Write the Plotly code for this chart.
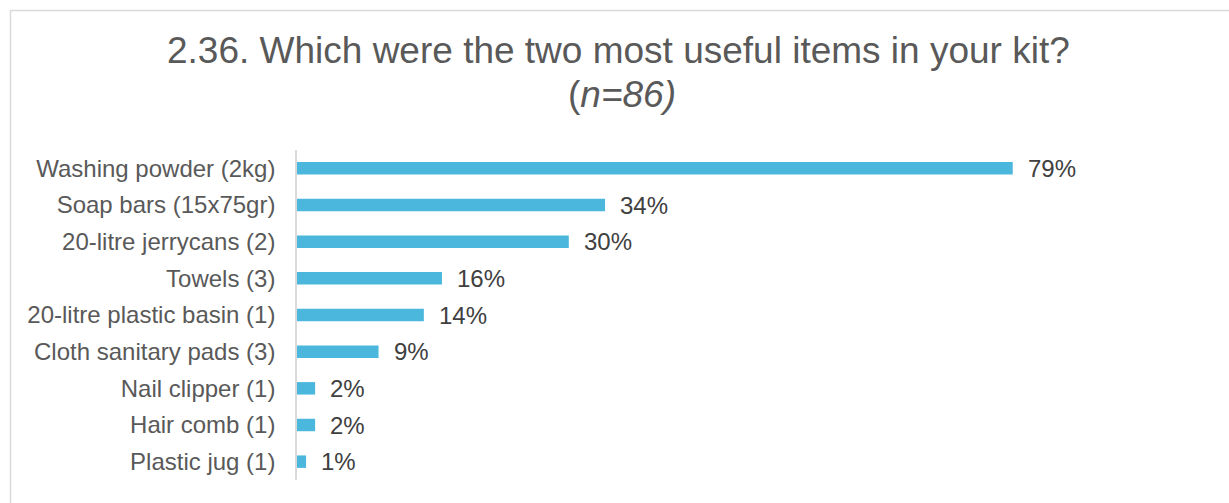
import plotly.graph_objects as go

# Survey results: share of respondents naming each kit item among their two most useful
items = [
    "Washing powder (2kg)",
    "Soap bars (15x75gr)",
    "20-litre jerrycans (2)",
    "Towels (3)",
    "20-litre plastic basin (1)",
    "Cloth sanitary pads (3)",
    "Nail clipper (1)",
    "Hair comb (1)",
    "Plastic jug (1)",
]
shares = [79, 34, 30, 16, 14, 9, 2, 2, 1]
value_labels = ["79%", "34%", "30%", "16%", "14%", "9%", "2%", "2%", "1%"]

title_line1 = "2.36. Which were the two most useful items in your kit?"
title_line2 = "(<i>n=86)</i>"

W, H = 1229, 503
M_L, M_R, M_T, M_B = 297, 26, 150, 23
plot_w = W - M_L - M_R
plot_h = H - M_T - M_B

BAR = "#4BB7DD"
LABEL = "#595959"
VALUE = "#404040"
FONT = "Liberation Sans, Arial, sans-serif"


def px_x(px):
    return (px - M_L) / plot_w


def px_y(py):
    return (H - M_B - py) / plot_h


fig = go.Figure(
    go.Bar(
        x=shares,
        y=items,
        orientation="h",
        marker=dict(color=BAR, line=dict(width=0)),
        width=0.34,
        hoverinfo="skip",
    )
)

# percentage labels just past the end of each bar
for item, v, lab in zip(items, shares, value_labels):
    fig.add_annotation(
        x=v, y=item, xref="x", yref="y",
        text=lab, showarrow=False,
        xanchor="left", yanchor="middle", xshift=13,
        font=dict(family=FONT, size=24, color=VALUE),
    )

# two-line heading
fig.add_annotation(
    x=px_x(618), xref="paper", y=px_y(51), yref="paper",
    xanchor="center", yanchor="middle", showarrow=False,
    text=title_line1, font=dict(family=FONT, size=37, color=LABEL),
)
fig.add_annotation(
    x=px_x(622), xref="paper", y=px_y(94), yref="paper",
    xanchor="center", yanchor="middle", showarrow=False,
    text=title_line2, font=dict(family=FONT, size=37, color=LABEL),
)

# frame around the chart
fig.add_shape(
    type="rect", xref="paper", yref="paper",
    x0=px_x(10.5), x1=px_x(1240), y0=px_y(515), y1=px_y(10.5),
    line=dict(color="#D9D9D9", width=1.5), fillcolor="rgba(0,0,0,0)",
    layer="below",
)

fig.update_layout(
    width=W, height=H,
    margin=dict(l=M_L, r=M_R, t=M_T, b=M_B, pad=0),
    paper_bgcolor="white", plot_bgcolor="white",
    showlegend=False,
    bargap=0.66,
    xaxis=dict(
        range=[0, 100], visible=False, fixedrange=True,
    ),
    yaxis=dict(
        categoryorder="array", categoryarray=items,
        autorange="reversed",
        showline=True, linecolor="#D9D9D9", linewidth=1.5,
        showgrid=False, zeroline=False, ticks="",
        ticklabelstandoff=15,
        tickfont=dict(family=FONT, size=24, color=LABEL),
        fixedrange=True,
    ),
)

fig.write_html("out.html", config={"displayModeBar": False})
